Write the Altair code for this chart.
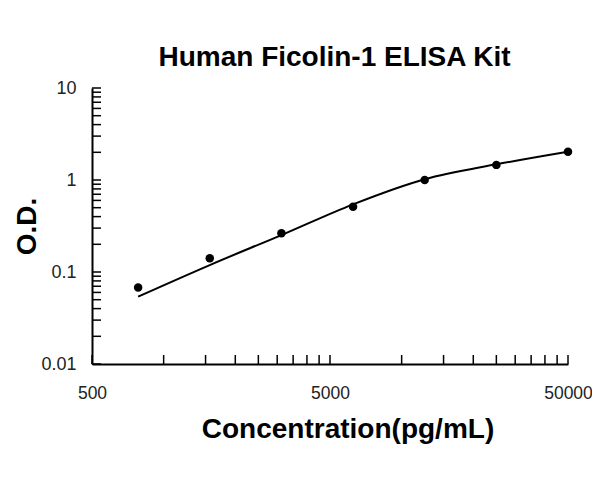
import altair as alt
import pandas as pd

# Standard points (concentration pg/mL, O.D.)
conc = [781.25, 1562.5, 3125, 6250, 12500, 25000, 50000]
od = [0.068, 0.141, 0.263, 0.513, 1.0, 1.46, 2.03]

# Fitted curve
curve_x = [781.25, 1562.5, 3125, 6250, 12500, 25000, 50000]
curve_y = [0.054, 0.119, 0.252, 0.544, 1.02, 1.48, 2.03]

# Axis tick positions and labels
x_ticks = [500, 1000, 1500, 2000, 2500, 3000, 3500, 4000, 4500, 5000,
           10000, 15000, 20000, 25000, 30000, 35000, 40000, 45000, 50000]
x_labels = [500, 5000, 50000]
y_ticks = [0.01, 0.02, 0.03, 0.04, 0.05, 0.06, 0.07, 0.08, 0.09,
           0.1, 0.2, 0.3, 0.4, 0.5, 0.6, 0.7, 0.8, 0.9,
           1, 2, 3, 4, 5, 6, 7, 8, 9, 10]
y_labels = [0.01, 0.1, 1, 10]

W, H = 476, 276
FONT = "Liberation Sans"

pts = pd.DataFrame({"x": conc, "y": od})
crv = pd.DataFrame({"x": curve_x, "y": curve_y})
xt = pd.DataFrame({"x": x_ticks})
yt = pd.DataFrame({"y": y_ticks})

xs = alt.Scale(type="log", domain=[500, 50000], nice=False)
ys = alt.Scale(type="log", domain=[0.01, 10], nice=False)

x_axis = alt.Axis(
    values=x_labels, format="d", ticks=False, grid=False,
    labelFont=FONT, labelFontSize=17.5, labelColor="#222222", labelPadding=20,
    labelFlush=False, labelOverlap=False,
    domainColor="black", domainWidth=2,
    title="Concentration(pg/mL)", titleFont=FONT, titleFontSize=28,
    titleFontWeight="bold", titleColor="black",
    titleX=255.5, titleY=73, titleAlign="center", titleBaseline="alphabetic",
)
y_axis = alt.Axis(
    values=y_labels, format="~g", ticks=False, grid=False,
    labelFont=FONT, labelFontSize=18, labelColor="#222222", labelPadding=16,
    labelFlush=False, labelOverlap=False,
    domainColor="black", domainWidth=2,
    title="O.D.", titleFont=FONT, titleFontSize=28,
    titleFontWeight="bold", titleColor="black", titleAngle=270,
    titleX=-57, titleY=138, titleAlign="center", titleBaseline="alphabetic",
)

points = alt.Chart(pts).mark_point(filled=True, color="black", size=72, opacity=1).encode(
    x=alt.X("x:Q", scale=xs, axis=x_axis),
    y=alt.Y("y:Q", scale=ys, axis=y_axis),
)

line = alt.Chart(crv).mark_line(color="black", strokeWidth=2, interpolate="monotone").encode(
    x=alt.X("x:Q", scale=xs, axis=x_axis),
    y=alt.Y("y:Q", scale=ys, axis=y_axis),
)

xtick_rules = alt.Chart(xt).mark_rule(color="black", strokeWidth=1.5).encode(
    x=alt.X("x:Q", scale=xs, axis=x_axis),
    y=alt.value(H),
    y2=alt.value(H - 9),
)

ytick_rules = alt.Chart(yt).mark_rule(color="black", strokeWidth=1.5).encode(
    y=alt.Y("y:Q", scale=ys, axis=y_axis),
    x=alt.value(0),
    x2=alt.value(9),
)

chart = alt.layer(points, xtick_rules, ytick_rules, line).properties(
    width=W,
    height=H,
    title=alt.TitleParams(
        "Human Ficolin-1 ELISA Kit", font=FONT, fontSize=28, fontWeight="bold",
        color="black", anchor="middle", dx=4.5, offset=-15, baseline="alphabetic",
    ),
    padding={"left": 84, "top": 80, "right": 24, "bottom": 110},
    autosize=alt.AutoSizeParams(type="none"),
    background="white",
).configure_view(stroke="transparent", strokeWidth=0)

chart.save("out.html", embed_options={"renderer": "svg", "actions": False})
